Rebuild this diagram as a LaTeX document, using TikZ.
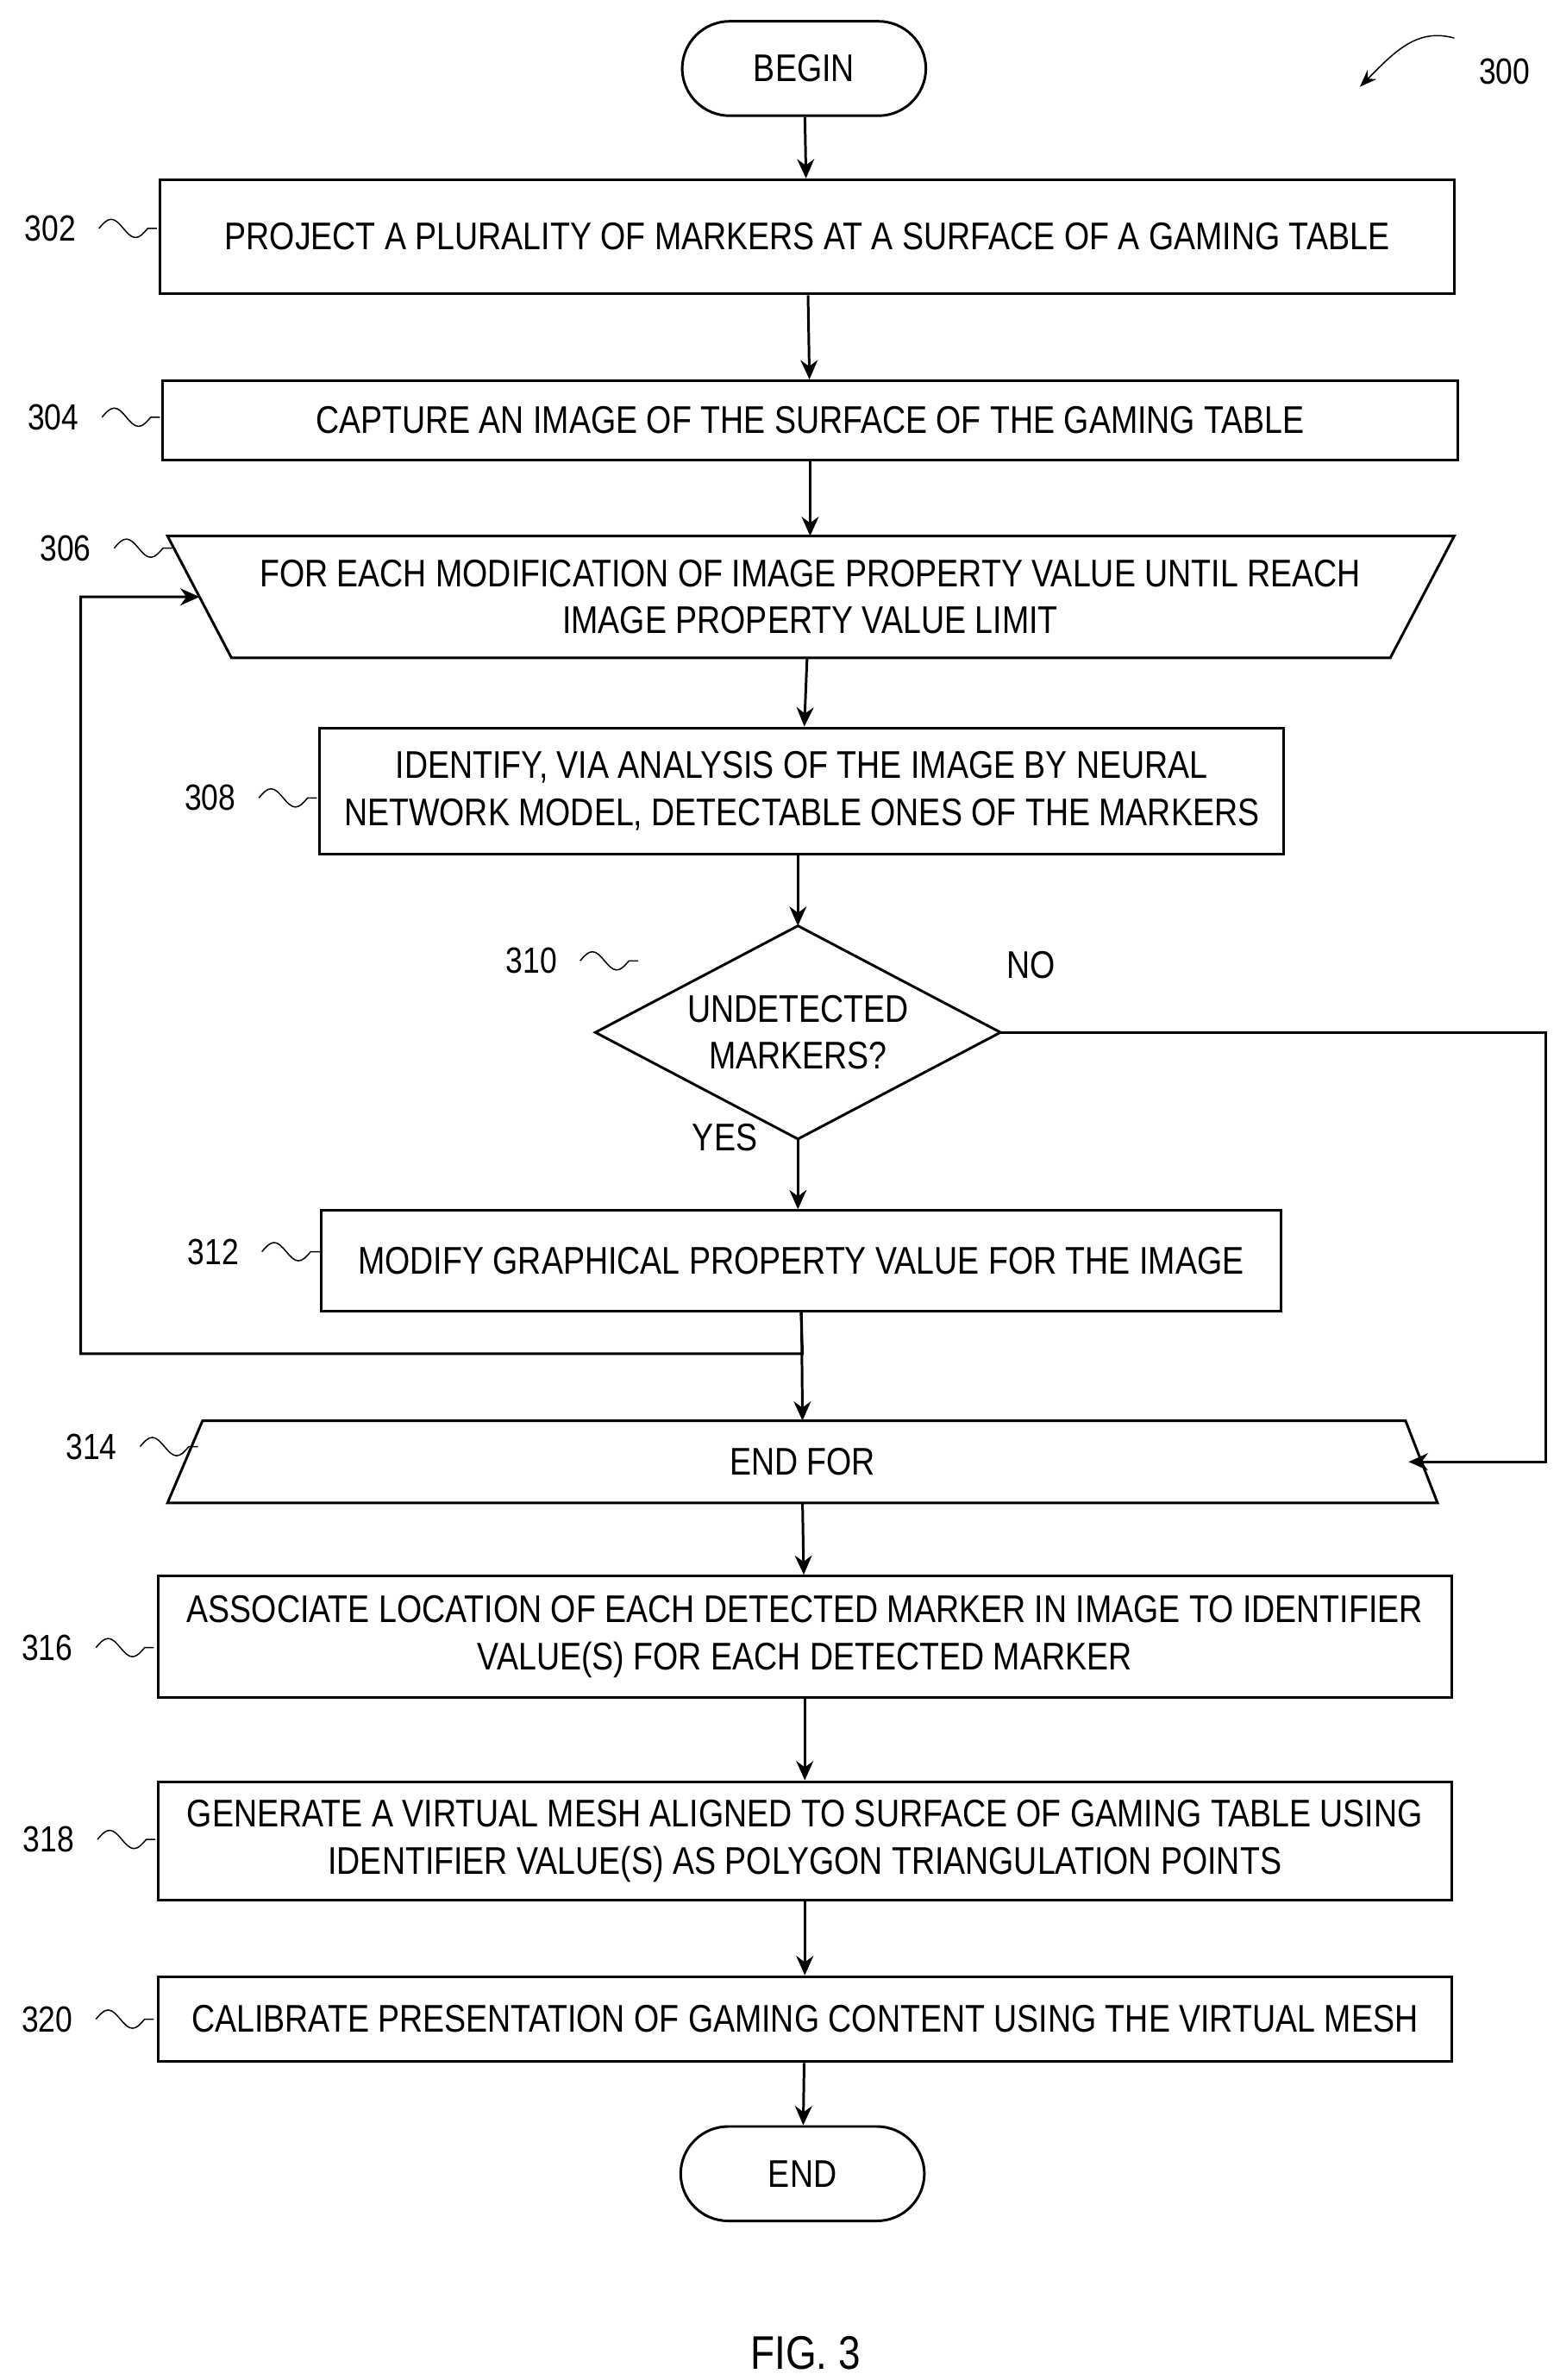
\documentclass[tikz,border=0pt]{standalone}
\usepackage{fontspec}
\setmainfont[FakeStretch=0.84]{Liberation Sans}
\usetikzlibrary{arrows.meta}

\tikzset{
    box/.style={draw, line width=1.2pt, align=center, inner sep=2pt},
    term/.style={draw, line width=1.2pt, rounded corners=0.78cm, minimum width=4cm, minimum height=1.55cm},
    flow/.style={-{Stealth[length=9pt,width=8pt]}, line width=1.2pt},
    wig/.style={line width=0.6pt},
}
\newcommand{\stepref}[3]{%
    \node[font=\fontsize{17}{20}\selectfont] (r#3) at (#1,#2) {#3};
    \draw[wig] (#1+32,#2) sin +(8,-6) cos +(8,6) sin +(8,6) cos +(8,-6) -- +(6,0);
}

\begin{document}
\begin{tikzpicture}[x=0.025cm, y=-0.025cm, font=\fontsize{18}{22}\selectfont]
    \useasboundingbox (0,0) rectangle (1024,1563);

    \node[term] (begin) at (528,45) {BEGIN};
    \node[box, minimum width=21.25cm, minimum height=1.875cm] (s302) at (530,155.5) {PROJECT A PLURALITY OF MARKERS AT A SURFACE OF A GAMING TABLE};
    \node[box, minimum width=21.25cm, minimum height=1.3cm] (s304) at (532,276) {CAPTURE AN IMAGE OF THE SURFACE OF THE GAMING TABLE};

    % loop start
    \draw[line width=1.2pt] (110,352) -- (955,352) -- (913,432) -- (152,432) -- cycle;
    \node[align=center] (s306) at (532,392) {FOR EACH MODIFICATION OF IMAGE PROPERTY VALUE UNTIL REACH\\IMAGE PROPERTY VALUE LIMIT};
    \coordinate (s306n) at (532,352);
    \coordinate (s306s) at (530,432);
    \coordinate (s306w) at (131,392);

    \node[box, minimum width=15.825cm, minimum height=2.075cm] (s308) at (526.5,519.5) {IDENTIFY, VIA ANALYSIS OF THE IMAGE BY NEURAL\\NETWORK MODEL, DETECTABLE ONES OF THE MARKERS};

    \draw[line width=1.2pt] (524,608) -- (657,678) -- (524,748) -- (391,678) -- cycle;
    \node[align=center] (s310) at (524,678) {UNDETECTED\\MARKERS?};
    \coordinate (s310n) at (524,608);
    \coordinate (s310s) at (524,748);
    \coordinate (s310e) at (657,678);

    \node[box, minimum width=15.75cm, minimum height=1.65cm] (s312) at (526,828) {MODIFY GRAPHICAL PROPERTY VALUE FOR THE IMAGE};

    % loop end
    \draw[line width=1.2pt] (133,933) -- (923,933) -- (944,987) -- (110,987) -- cycle;
    \node (s314) at (527,960) {END FOR};
    \coordinate (s314n) at (527,933);
    \coordinate (s314s) at (527,987);
    \coordinate (s314e) at (925,960);

    \node[box, minimum width=21.225cm, minimum height=2cm] (s316) at (528.5,1075) {ASSOCIATE LOCATION OF EACH DETECTED MARKER IN IMAGE TO IDENTIFIER\\VALUE(S) FOR EACH DETECTED MARKER};
    \node[box, minimum width=21.225cm, minimum height=1.95cm] (s318) at (528.5,1209) {GENERATE A VIRTUAL MESH ALIGNED TO SURFACE OF GAMING TABLE USING\\IDENTIFIER VALUE(S) AS POLYGON TRIANGULATION POINTS};
    \node[box, minimum width=21.225cm, minimum height=1.4cm] (s320) at (528.5,1326) {CALIBRATE PRESENTATION OF GAMING CONTENT USING THE VIRTUAL MESH};
    \node[term] (end) at (527,1427.5) {END};

    \draw[flow] (begin) -- (s302);
    \draw[flow] (s302) -- (s304);
    \draw[flow] (s304) -- (s306n);
    \draw[flow] (s306s) -- (s308);
    \draw[flow] (s308.south -| s310n) -- (s310n);
    \draw[flow] (s310s) -- (s312.north -| s310s);
    \draw[flow] (s312) -- (s314n);
    \draw[flow] (s312.south) -- (527,889) -- (53,889) -- (53,392) -- (s306w);
    \draw[flow] (s310e) -- (1015,678) -- (1015,960) -- (s314e);
    \draw[flow] (s314s) -- (s316);
    \draw[flow] (s316) -- (s318);
    \draw[flow] (s318) -- (s320);
    \draw[flow] (s320) -- (end);

    \node (no) at (677,634) {NO};
    \node (yes) at (476,747) {YES};

    \stepref{33}{150}{302}
    \stepref{35}{274}{304}
    \stepref{43}{360}{306}
    \stepref{138}{524}{308}
    \stepref{349}{631}{310}
    \stepref{140}{822}{312}
    \stepref{60}{950}{314}
    \stepref{31}{1082}{316}
    \stepref{32}{1208}{318}
    \stepref{31}{1326}{320}

    \node[font=\fontsize{17}{20}\selectfont] (r300) at (988,47) {300};
    \draw[wig, -{Stealth[length=8pt]}] (955,25) .. controls (930,18) and (915,35) .. (893,57);

    \node[font=\fontsize{22}{26}\selectfont] (fig) at (529,1545) {FIG. 3};
\end{tikzpicture}
\end{document}
